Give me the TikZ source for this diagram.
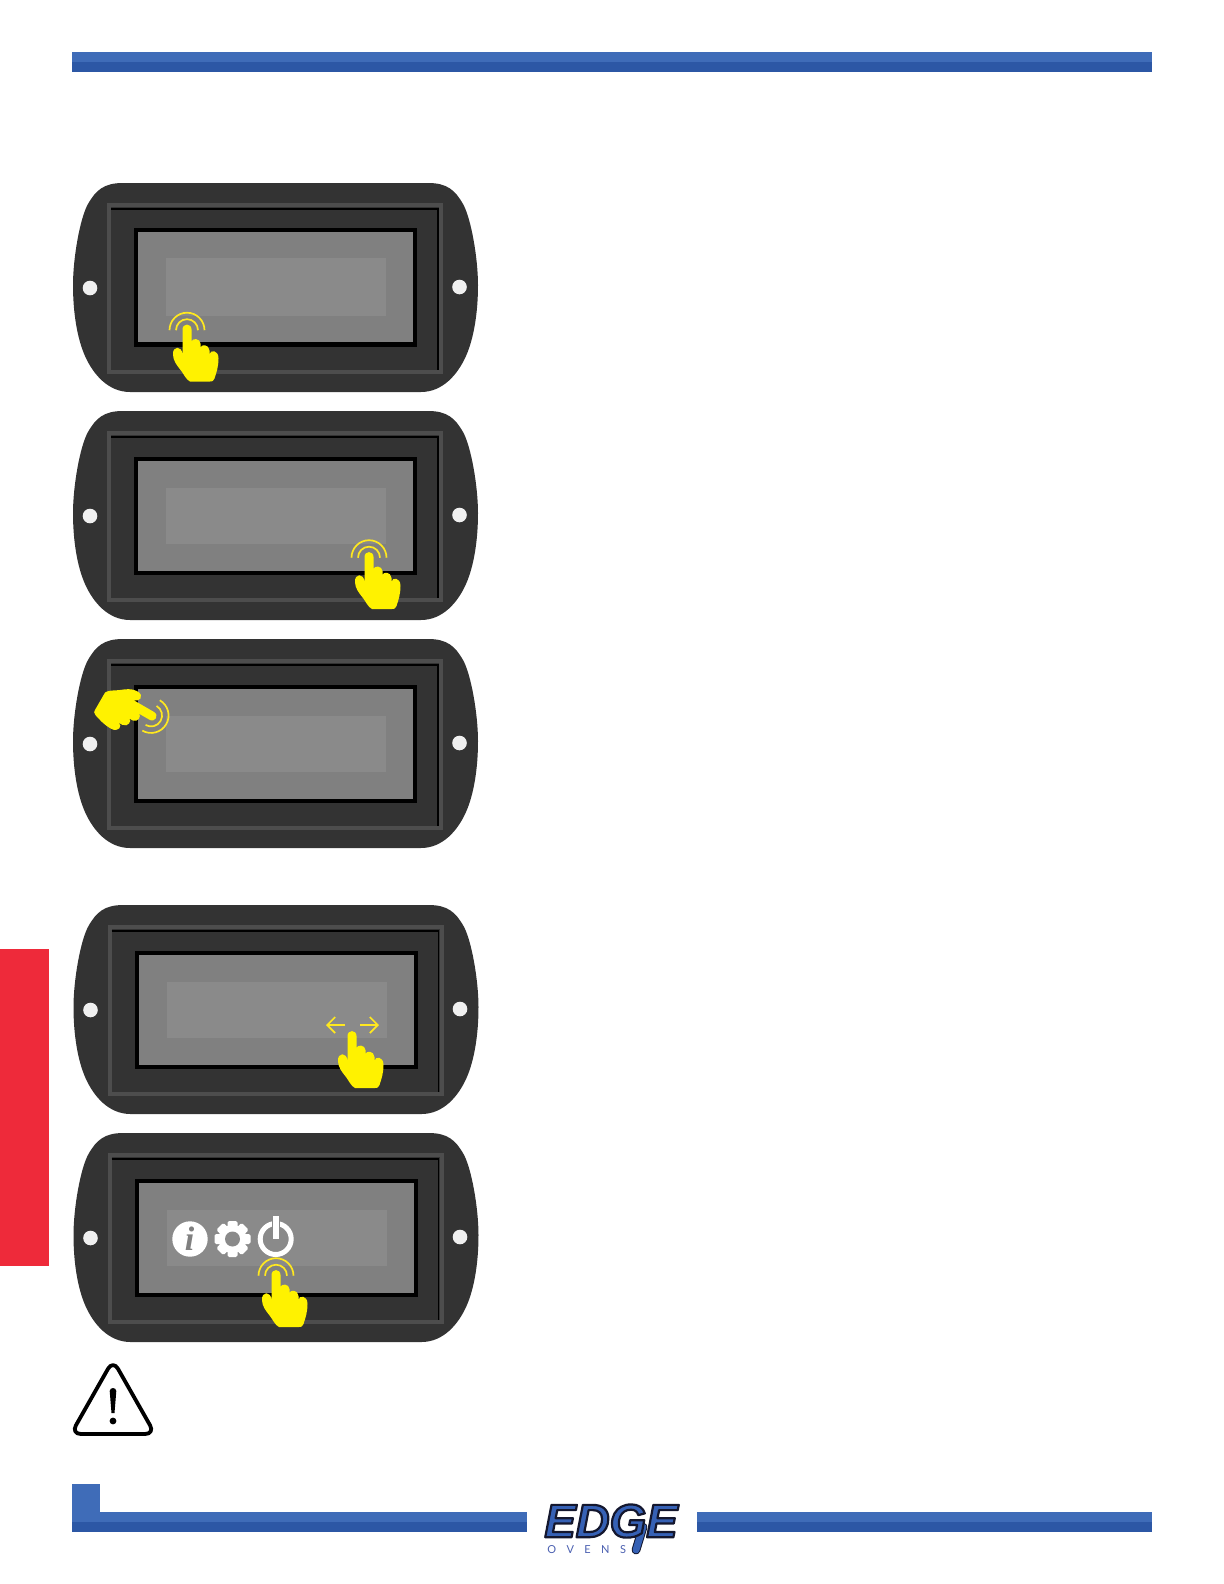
\documentclass[tikz,border=0pt]{standalone}
\usepackage{fontspec}
\setmainfont{Liberation Sans}
\newfontfamily\logofont{Liberation Sans}
\newfontfamily\infofont{Liberation Serif}
\newfontfamily\ovensfont{Lato}
\usetikzlibrary{arrows.meta}
\definecolor{barup}{HTML}{3F6CB8}
\definecolor{bardown}{HTML}{2C57A5}
\definecolor{tabred}{HTML}{EE2A3A}
\definecolor{bodygray}{HTML}{333333}
\definecolor{rimgray}{HTML}{4D4D4D}
\definecolor{screengray}{HTML}{808080}
\definecolor{fieldgray}{HTML}{8A8A8A}
\definecolor{holegray}{HTML}{F0F0F0}
\definecolor{handyellow}{HTML}{FFF200}
\definecolor{ringyellow}{HTML}{FFE81F}
\definecolor{logoblue}{HTML}{3560B4}
\definecolor{logodark}{HTML}{14182E}
\definecolor{ovensblue}{HTML}{4A5FB0}
\tikzset{
  x=0.5bp,y=-0.5bp,
  ringline/.style={draw=ringyellow,line width=0.85bp},
  pics/panel/.style={code={
    \fill[bodygray] (123,183) .. controls (104,183) and (96,190) .. (88,204)
       .. controls (80,218) and (73,258) .. (73,285)
       .. controls (73,312) and (77,338) .. (85,356)
       .. controls (93,374) and (108,392) .. (130,392) -- (421,392)
       .. controls (443,392) and (458,374) .. (466,356)
       .. controls (474,338) and (478,312) .. (478,285)
       .. controls (478,258) and (471,218) .. (463,204)
       .. controls (455,190) and (447,183) .. (428,183) -- cycle;
    \draw[rimgray,line width=2bp] (109,372) -- (109,205) -- (441,205) -- (441,372) -- cycle;
    \draw[black,line width=0.7bp] (111,209) -- (438,209) -- (438,370);
    \fill[black] (134,228+#1) rectangle (417,347);
    \fill[screengray] (138,232+#1) rectangle (413,342+#1);
    \fill[fieldgray] (166,258+2*#1) rectangle (386,316);
    \fill[holegray] (90,288) circle[radius=7.3];
    \fill[holegray] (459.5,287) circle[radius=7.3];
  }},
  pics/hand/.style={code={
    \fill[handyellow] (-4.5,30) -- (-4.5,5) .. controls (-4.5,-1.5) and (4.5,-1.5) .. (4.5,5)
      -- (4.5,17) .. controls (5,13.5) and (13,13.5) .. (13.5,19)
      -- (13.5,23) .. controls (14,19.5) and (22,19.5) .. (22.5,26)
      -- (22.5,30) .. controls (23,25) and (31.5,25) .. (31.5,34)
      .. controls (31.5,42) and (29.5,48) .. (27.5,54)
      .. controls (26.5,57) and (25,57) .. (23,57) -- (3,57)
      .. controls (-1,55) and (-3,50) .. (-6,46)
      .. controls (-10,41) and (-14,36) .. (-14,30)
      .. controls (-14.5,21) and (-5,21) .. (-4.5,30) -- cycle;
  }},
  pics/rings/.style={code={
    \draw[ringline] (-17.5,5.7) arc[start angle=180,end angle=360,radius=17.5];
    \draw[ringline] (-11,5.7) arc[start angle=180,end angle=360,radius=11];
  }},
  yarrow/.style={draw=ringyellow,line width=0.85bp,-{Straight Barb[length=4bp,width=8bp]}}
}
\begin{document}
\begin{tikzpicture}
\useasboundingbox (0,0) rectangle (1224,1584);
% top bar
\fill[barup] (72,52) rectangle (1152,62);
\fill[bardown] (72,62) rectangle (1152,72);
% red tab
\fill[tabred] (0,949) rectangle (49,1266);
% panels
\pic at (0,0) {panel=0};
\pic at (0,228) {panel=1};
\pic at (0,456) {panel=1};
\pic at (0.5,722) {panel=1};
\pic at (0.5,950) {panel=1};
% hands
\pic at (187,324.5) {rings};
\pic at (187,324.5) {hand};
\pic at (369,552) {rings};
\pic at (369,552) {hand};
\begin{scope}[shift={(156,718.3)},rotate=-120]
  \pic[transform shape] at (0,0) {rings};
  \pic[transform shape] at (0,0) {hand};
\end{scope}
\pic at (352,1031) {hand};
\coordinate (la) at (345,1025); \coordinate (lb) at (326,1025);
\coordinate (ra) at (360,1025); \coordinate (rb) at (379,1025);
\draw[yarrow] (la) -- (lb);
\draw[yarrow] (ra) -- (rb);
% panel 5 icons
\fill[white] (190,1239) circle[radius=17.7];
\node[inner sep=0pt,text=screengray,font=\infofont\bfseries\itshape\fontsize{17bp}{17bp}\selectfont] (infoi) at (189.5,1239) {i};
\begin{scope}[shift={(232.5,1239)}]
  \fill[white] (0,0) circle[radius=14];
  \foreach \a in {0,45,...,315}
    \fill[white,rotate=\a,rounded corners=0.8bp] (-5,-18) rectangle (5,0);
  \fill[fieldgray] (0,0) circle[radius=7.5];
\end{scope}
\draw[white,line width=2.5bp] (275.7,1239) circle[radius=15.5];
\fill[fieldgray] (271.5,1216) rectangle (279.9,1228);
\fill[white] (272.7,1216) rectangle (278.7,1239);
\pic at (276,1270) {rings};
\pic at (276,1270) {hand};
% warning triangle
\draw[black,line width=1.9bp,rounded corners=5bp,line join=round] (113,1360) -- (155,1434) -- (71,1434) -- cycle;
\fill[black] (109.7,1391) .. controls (109.7,1387) and (116.3,1387) .. (116.3,1391) -- (114.5,1413) -- (111.5,1413) -- cycle;
\fill[black] (113,1421) circle[radius=3.4];
% bottom bars
\fill[barup] (72,1484) rectangle (100,1512);
\fill[barup] (72,1512) rectangle (527,1522);
\fill[bardown] (72,1522) rectangle (527,1532);
\fill[barup] (697,1512) rectangle (1152,1522);
\fill[bardown] (697,1522) rectangle (1152,1532);
% logo
\draw[logodark,line width=4.4bp,line cap=round] (643,1527) -- (636,1550);
\draw[logoblue,line width=3.4bp,line cap=round] (643,1527) -- (636,1550);
\node[inner sep=0pt,anchor=center,font=\logofont\bfseries\itshape\fontsize{23.5bp}{23.5bp}\selectfont] (edge) at (611,1521)
  {\special{pdf:code q 1 j 1 J 2 Tr 1.1 w 0.08 0.09 0.18 RG 0.21 0.38 0.71 rg}EDGE\special{pdf:code Q}};
\node[inner sep=0pt,anchor=west,text=ovensblue,font=\ovensfont\fontsize{5.5bp}{5.5bp}\selectfont] (ovens) at (547,1550)
  {O\hspace{5.2bp}V\hspace{5.2bp}E\hspace{5.2bp}N\hspace{5.2bp}S};
\end{tikzpicture}
\end{document}
